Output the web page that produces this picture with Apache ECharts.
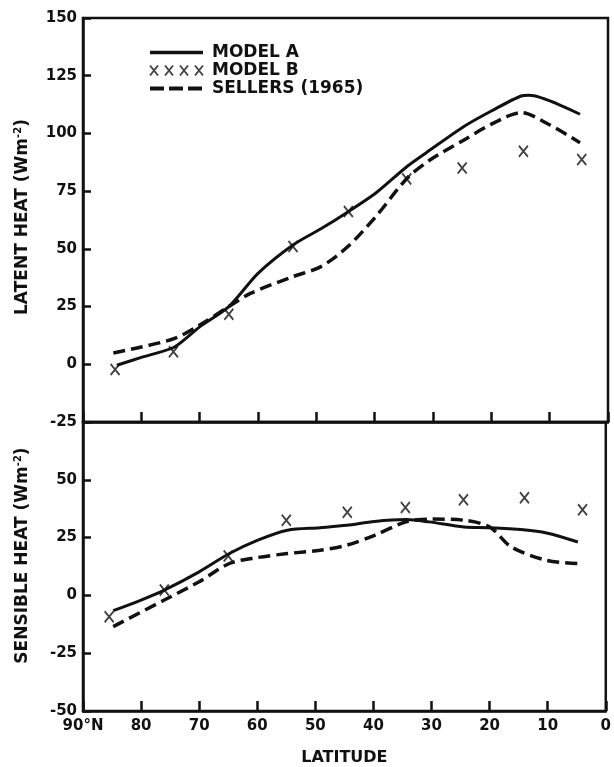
<!DOCTYPE html>
<html>
<head>
<meta charset="utf-8">
<script src="https://cdn.jsdelivr.net/npm/echarts@6/dist/echarts.min.js"></script>
<style>
  html,body{margin:0;padding:0;background:#fff;}
  #chart{width:614px;height:767px;}
</style>
</head>
<body>
<div id="chart"></div>
<script>
// latitude ticks
var latTicks = [90, 80, 70, 60, 50, 40, 30, 20, 10, 0];

// latent heat (top panel)
var latentALat = [84.2, 80, 74.3, 70, 65, 60, 54, 49, 44.6, 39.8, 34.4, 30.4, 24.7, 20, 14.9, 13.5, 4.8];
var latentA    = [-0.4, 3, 7.5, 16.2, 25, 39.4, 51.7, 59, 66, 74.2, 85.8, 93, 103, 109.7, 116.2, 116.5, 108.3];
var latentBLat = [84.5, 74.5, 65, 54, 44.5, 34.5, 25, 14.5, 4.5];
var latentB    = [-2.3, 5.4, 21.7, 51, 66.2, 80.3, 85, 92.3, 88.7];
var latentSLat = [84.8, 80, 74.3, 70, 65, 61.3, 54, 49.2, 44.6, 39.8, 34.4, 30.4, 25, 20, 14.9, 10.2, 4.8];
var latentS    = [4.9, 7.5, 11.2, 17, 25, 30.7, 38, 42.3, 51, 64, 80.7, 88.7, 96.7, 104, 109, 104, 96];

// sensible heat (bottom panel)
var sensAlat = [84.8, 80, 76, 70, 64.8, 59.9, 54.8, 49.2, 44.6, 39.8, 34.4, 30.4, 24.4, 20, 14.2, 10.2, 4.8];
var sensA    = [-6.6, -2, 2.3, 10.2, 18.1, 23.9, 28.2, 29.3, 30.3, 32, 32.8, 31.8, 29.6, 29.3, 28.4, 27, 23.1];
var sensBLat = [85.5, 76, 65, 55, 44.5, 34.5, 24.5, 14, 4];
var sensB    = [-9.2, 2.3, 17, 32.5, 36, 38, 41.4, 42.2, 37];
var sensSLat = [84.8, 76, 70, 64.8, 59.9, 54.8, 49.2, 44.6, 39.8, 34.4, 30.4, 24.4, 20, 16.3, 10.2, 4.8];
var sensS    = [-13.5, -2, 5.9, 13.8, 16.4, 18.1, 19.5, 21.7, 26, 31.8, 33, 32.5, 29.6, 21, 15.2, 13.8];

function zip(xs, ys){
  return xs.map(function(x,i){ return [x, ys[i]]; });
}

var ink = '#111';
var fnt = 'DejaVu Sans';
var xMark = 'path://M0,0L8,10M8,0L0,10';
var xMarks4 = 'path://M0,0L8,10M8,0L0,10M15,0L23,10M23,0L15,10M30,0L38,10M38,0L30,10M45,0L53,10M53,0L45,10';

var chart = echarts.init(document.getElementById('chart'));

function yName(t){
  return '{a|' + t + ' (Wm}{s|-2}{a|)}';
}
var nameRich = {
  a:{fontFamily:fnt, fontWeight:'bold', fontSize:17, color:ink},
  s:{fontFamily:fnt, fontWeight:'bold', fontSize:10, color:ink, padding:[0,0,10,0]}
};

var xBase = {
  type:'value', min:0, max:90, interval:10, inverse:true,
  axisLine:{show:true, onZero:false, lineStyle:{color:ink, width:2.5}},
  axisTick:{show:true, inside:true, length:10, lineStyle:{color:ink, width:2.5}},
  splitLine:{show:false}
};
var yBase = {
  type:'value', interval:25,
  axisLine:{show:true, onZero:false, lineStyle:{color:ink, width:2.5}},
  axisTick:{show:true, inside:true, length:8, lineStyle:{color:ink, width:2.5}},
  splitLine:{show:false},
  axisLabel:{fontFamily:fnt, fontWeight:'bold', fontSize:15, color:ink, margin:6},
  nameLocation:'middle', nameGap:50, nameRotate:90
};

var solid = {color:ink, width:3, type:'solid'};
var dashed = {color:ink, width:3.5, type:[12,6]};
var crossStyle = {color:'transparent', borderColor:ink, borderWidth:1.9};
var hideDot = {opacity:0};

chart.setOption({
  backgroundColor:'#fff',
  animation:false,
  legend:{
    orient:'vertical', left:143, top:39,
    itemWidth:53, itemHeight:12, itemGap:1,
    textStyle:{fontFamily:fnt, fontWeight:'bold', fontSize:17, color:ink, padding:[0,0,0,4]},
    data:[
      {name:'MODEL A', itemStyle:hideDot, lineStyle:{color:ink, width:3.5, type:'solid'}},
      {name:'MODEL B', icon:xMarks4, itemStyle:crossStyle},
      {name:'SELLERS (1965)', itemStyle:hideDot, lineStyle:{color:ink, width:4, type:[14,5]}}
    ]
  },
  grid:[
    {left:83, right:6, top:18, height:404, show:true, borderColor:ink, borderWidth:2.5},
    {left:83, right:6, top:422, bottom:56, show:true, borderColor:ink, borderWidth:2.5}
  ],
  xAxis:[
    Object.assign({}, xBase, {gridIndex:0, axisLabel:{show:false}}),
    Object.assign({}, xBase, {
      gridIndex:1,
      name:'LATITUDE', nameLocation:'middle', nameGap:39,
      nameTextStyle:{fontFamily:fnt, fontWeight:'bold', fontSize:16, color:ink},
      axisLabel:{
        fontFamily:fnt, fontWeight:'bold', fontSize:15, color:ink, margin:8,
        formatter:function(v){ return v === latTicks[0] ? '90°N' : String(v); }
      }
    })
  ],
  yAxis:[
    Object.assign({}, yBase, {gridIndex:0, min:-25, max:150, name:yName('LATENT HEAT'),
      nameTextStyle:{rich:nameRich, padding:[0,0,0,6]}}),
    Object.assign({}, yBase, {gridIndex:1, min:-50, max:75, name:yName('SENSIBLE HEAT'),
      nameTextStyle:{rich:nameRich, padding:[0,0,0,22]},
      axisLabel:Object.assign({}, yBase.axisLabel, {
        formatter:function(v){ return v === 75 ? '' : String(v); }
      })
    })
  ],
  series:[
    {name:'MODEL A', type:'line', xAxisIndex:0, yAxisIndex:0, data:zip(latentALat, latentA),
      smooth:0.25, symbol:'none', lineStyle:solid, itemStyle:{color:ink}},
    {name:'MODEL B', type:'scatter', xAxisIndex:0, yAxisIndex:0, data:zip(latentBLat, latentB),
      symbol:xMark, symbolSize:[9,11], itemStyle:crossStyle},
    {name:'SELLERS (1965)', type:'line', xAxisIndex:0, yAxisIndex:0, data:zip(latentSLat, latentS),
      smooth:0.3, symbol:'none', lineStyle:dashed, itemStyle:{color:ink}},
    {name:'MODEL A', type:'line', xAxisIndex:1, yAxisIndex:1, data:zip(sensAlat, sensA),
      smooth:0.3, symbol:'none', lineStyle:solid, itemStyle:{color:ink}},
    {name:'MODEL B', type:'scatter', xAxisIndex:1, yAxisIndex:1, data:zip(sensBLat, sensB),
      symbol:xMark, symbolSize:[9,11], itemStyle:crossStyle},
    {name:'SELLERS (1965)', type:'line', xAxisIndex:1, yAxisIndex:1, data:zip(sensSLat, sensS),
      smooth:0.3, symbol:'none', lineStyle:dashed, itemStyle:{color:ink}}
  ]
});
</script>
</body>
</html>
